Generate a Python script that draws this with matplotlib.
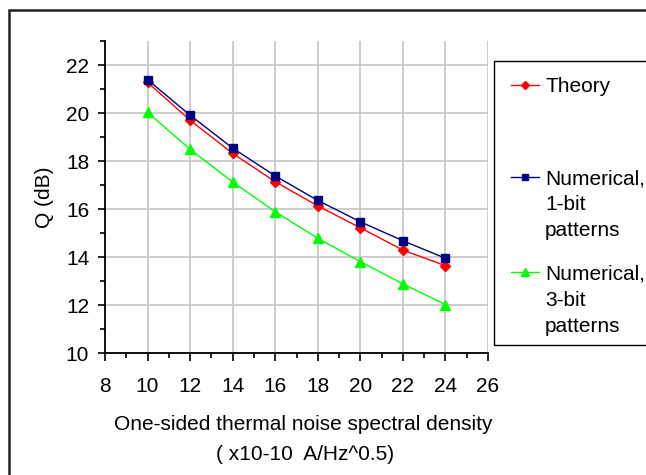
import matplotlib.pyplot as plt
import numpy as np
from matplotlib.lines import Line2D
from matplotlib.patches import Rectangle
from matplotlib.ticker import MultipleLocator

plt.rcParams['font.family'] = ['Liberation Sans', 'DejaVu Sans']

# noise spectral density (x1e-10 A/Hz^0.5) and Q factor in dB
noise = [10, 12, 14, 16, 18, 20, 22, 24]
q_theory = [21.29, 19.71, 18.33, 17.15, 16.14, 15.23, 14.30, 13.65]
q_1bit = [21.40, 19.92, 18.55, 17.39, 16.37, 15.48, 14.69, 13.96]
q_3bit = [20.04, 18.50, 17.14, 15.90, 14.79, 13.82, 12.89, 12.03]

series = [
    (q_theory, '#ff0000', 'D', 5, ['Theory']),
    (q_1bit, '#000080', 's', 6, ['Numerical,', '1-bit', 'patterns']),
    (q_3bit, '#00ff00', '^', 7, ['Numerical,', '3-bit', 'patterns']),
]

W, H = 646, 475
FS = 15


def fx(px):
    return px / W


def fy(py):
    return 1 - py / H


fig = plt.figure(figsize=(W / 100, H / 100), dpi=100)
ax = fig.add_axes([fx(105), fy(353.3), fx(488) - fx(105), fy(41.3) - fy(353.3)])

for vals, col, mk, ms, _ in series:
    ax.plot(noise, vals, color=col, lw=1.0, marker=mk, ms=ms,
            markerfacecolor=col, markeredgecolor=col, zorder=3)

ax.set_xlim(8, 26)
ax.set_ylim(10, 23)
ax.xaxis.set_major_locator(MultipleLocator(2))
ax.xaxis.set_minor_locator(MultipleLocator(1))
ax.yaxis.set_major_locator(MultipleLocator(2))
ax.yaxis.set_minor_locator(MultipleLocator(1))
ax.grid(True, which='major', color='#c8c8c8', lw=1.3)
ax.set_axisbelow(True)
for s in ['top', 'right']:
    ax.spines[s].set_visible(False)
for s in ['left', 'bottom']:
    ax.spines[s].set_linewidth(1.3)
ax.tick_params(which='major', direction='out', length=5.4, width=1.2,
               labelsize=FS)
ax.tick_params(axis='x', which='major', pad=12)
ax.tick_params(axis='y', which='major', pad=6)
ax.tick_params(which='minor', direction='out', length=3.5, width=1.2)

# axis titles
fig.text(fx(44), fy(197), 'Q (dB)', rotation=90, ha='center', va='center',
         fontsize=FS)
fig.text(fx(303), fy(430), 'One-sided thermal noise spectral density',
         ha='center', va='baseline', fontsize=FS)
fig.text(fx(305), fy(460), '( x10-10  A/Hz^0.5)',
         ha='center', va='baseline', fontsize=FS)

# legend box
fig.add_artist(Rectangle((fx(494), fy(345)), fx(700) - fx(494),
                         fy(61) - fy(345), transform=fig.transFigure,
                         fill=False, ec='black', lw=1.0, clip_on=False))
first_rows = [85, 177, 272]
for (vals, col, mk, ms, lines), y0 in zip(series, first_rows):
    fig.add_artist(Line2D([fx(511), fx(525), fx(539)], [fy(y0)] * 3,
                          transform=fig.transFigure, color=col, lw=1.0,
                          marker=mk, ms=ms - 1, markevery=[1],
                          markerfacecolor=col, markeredgecolor=col))
    for i, txt in enumerate(lines):
        fig.text(fx(545), fy(y0 + 7.5 + 26 * i), txt, ha='left',
                 va='baseline', fontsize=FS)

# outer chart frame
fig.add_artist(Rectangle((fx(9), fy(700)), fx(900), fy(10) - fy(700),
                         transform=fig.transFigure, fill=False,
                         ec='#222222', lw=1.8, clip_on=False))

fig.savefig('out.png', dpi=100)
